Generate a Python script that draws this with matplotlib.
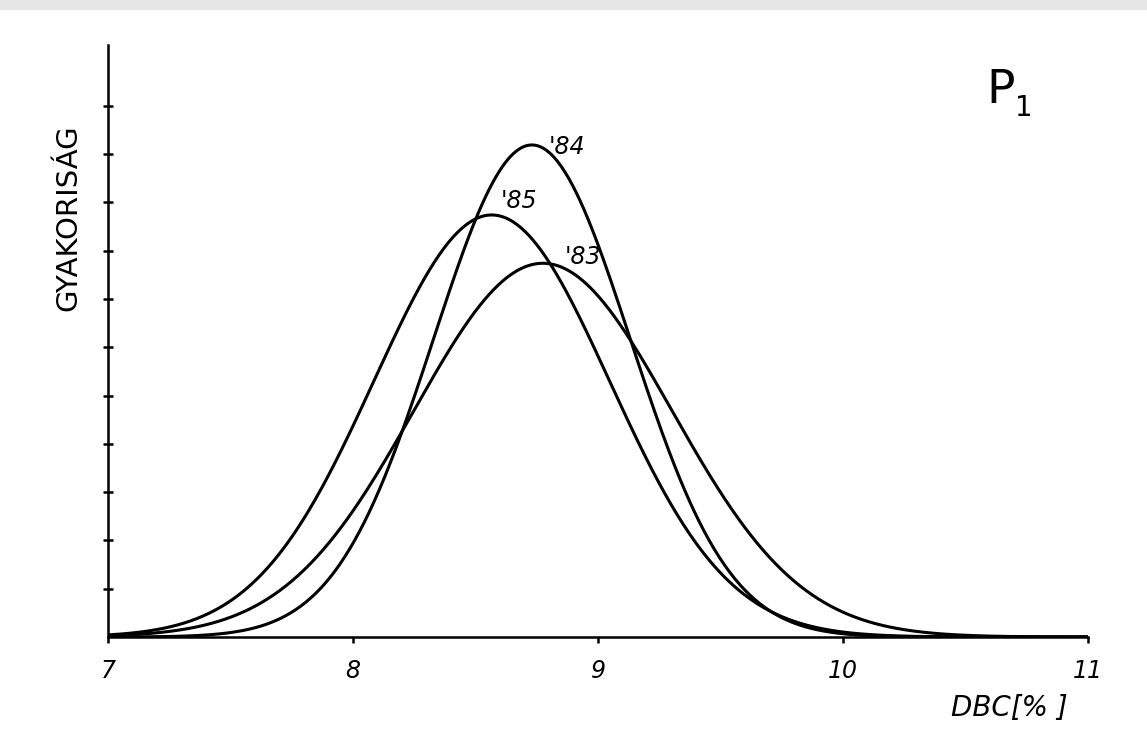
import numpy as np
import matplotlib.pyplot as plt
from matplotlib.patches import Rectangle

# DBC distributions per year (normal curves)
years = ["'83", "'84", "'85"]
means = [8.775, 8.73, 8.566]
sds = [0.526, 0.401, 0.481]
peaks = [7.74, 10.19, 8.74]

x_ticks = [7, 8, 9, 10, 11]
y_ticks = list(range(1, 12))

narrow = ['Liberation Sans Narrow', 'DejaVu Sans']

fig = plt.figure(figsize=(11.47, 7.46), dpi=100)
fig.patch.set_facecolor('white')
# light grey strip along the top edge of the sheet
fig.patches.append(Rectangle((0, 0.988), 1, 0.012, transform=fig.transFigure,
                             color='#e6e6e6', zorder=0))

ax = fig.add_axes([0.0942, 0.1461, 0.8544, 0.7936])

xs = np.linspace(7, 11, 800)
for mu, sd, peak in zip(means, sds, peaks):
    ys = peak * np.exp(-(xs - mu) ** 2 / (2 * sd ** 2))
    ax.plot(xs, ys, color='black', lw=2.2, solid_capstyle='round')

# year labels next to each peak
offsets = {"'83": (0.165, 0.13), "'84": (0.143, -0.05), "'85": (0.11, 0.29)}
for name, mu, peak in zip(years, means, peaks):
    dx, dy = offsets[name]
    ax.text(mu + dx, peak + dy, name, fontsize=17, family=narrow,
            style='italic', ha='center', va='center')

ax.set_xlim(7, 11)
ax.set_ylim(0, 12.26)
ax.set_xticks(x_ticks)
ax.set_xticklabels([str(t) for t in x_ticks], fontsize=17, family=narrow,
                   style='italic')
ax.set_yticks(y_ticks)
ax.set_yticklabels([])

for side in ['top', 'right']:
    ax.spines[side].set_visible(False)
for side in ['left', 'bottom']:
    ax.spines[side].set_linewidth(1.8)
    ax.spines[side].set_color('black')

ax.tick_params(axis='x', direction='out', length=4, width=1.8, pad=12)
ax.tick_params(axis='y', direction='inout', length=7, width=1.8)
ax.patch.set_alpha(0)

fig.text(0.0593, 0.7078, 'GYAKORISÁG', rotation=90, fontsize=21,
         family=narrow, ha='center', va='center')
fig.text(0.8797, 0.0509, 'DBC[% ]', fontsize=20, family=narrow,
         style='italic', ha='center', va='center')
fig.text(0.8725, 0.879, 'P', fontsize=34, family=narrow,
         ha='center', va='center')
fig.text(0.893, 0.855, '1', fontsize=20, family=narrow,
         ha='center', va='center')

fig.savefig('out.png', dpi=100)
